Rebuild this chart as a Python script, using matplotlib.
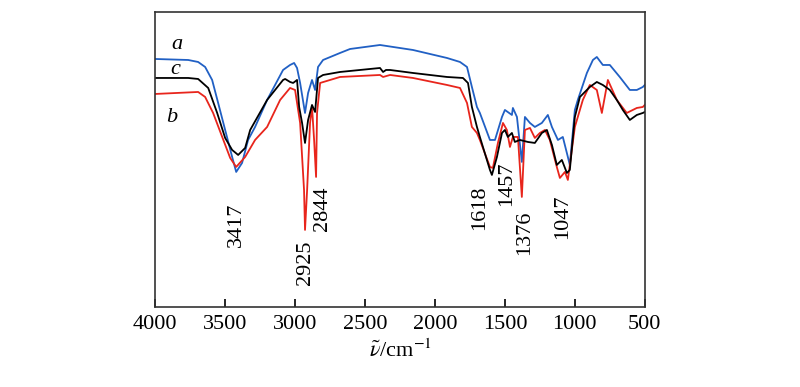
import matplotlib
matplotlib.use("Agg")
import matplotlib.pyplot as plt

plt.rcParams['font.family'] = ['Liberation Serif', 'DejaVu Serif']
plt.rcParams['mathtext.fontset'] = 'stix'

# wavenumber (cm-1) and transmittance (arbitrary units)
wn_a = [4000, 3764, 3693, 3643, 3593, 3550, 3500, 3450, 3421, 3379, 3336, 3286, 3200,
        3086, 3036, 3007, 2986, 2964, 2929, 2907, 2879, 2857, 2836, 2800, 2679, 2607,
        2393, 2157, 1914, 1821, 1771, 1736, 1700, 1679, 1607, 1571, 1521, 1500, 1450,
        1443, 1414, 1379, 1357, 1321, 1286, 1236, 1193, 1164, 1121, 1086, 1050, 1036,
        1000, 979, 914, 871, 843, 800, 750, 679, 607, 557, 514, 500]
t_a = [248, 247, 245, 240, 227, 204, 177, 150, 135, 144, 167, 180, 207,
       237, 242, 244, 239, 224, 194, 214, 227, 217, 240, 247, 254, 258,
       262, 257, 249, 245, 240, 220, 200, 194, 167, 167, 190, 197, 192,
       199, 190, 145, 190, 184, 180, 184, 192, 180, 167, 170, 150, 142,
       197, 207, 234, 247, 250, 242, 242, 230, 217, 217, 220, 222]

wn_b = [4000, 3693, 3643, 3586, 3521, 3464, 3421, 3357, 3286, 3200, 3107, 3036, 3000,
        2964, 2936, 2929, 2914, 2893, 2879, 2864, 2850, 2843, 2821, 2679, 2393, 2371,
        2321, 2157, 1914, 1821, 1771, 1736, 1700, 1679, 1607, 1586, 1550, 1514, 1486,
        1464, 1443, 1407, 1379, 1357, 1321, 1286, 1250, 1214, 1179, 1129, 1107, 1071,
        1050, 1000, 943, 893, 843, 807, 764, 700, 629, 557, 514, 500]
t_b = [213, 215, 210, 194, 170, 149, 140, 150, 167, 180, 207, 219, 217,
       184, 117, 77, 117, 184, 200, 167, 130, 194, 224, 230, 232, 230,
       232, 229, 222, 219, 204, 180, 174, 167, 140, 139, 164, 184, 177,
       160, 170, 170, 110, 177, 179, 169, 174, 177, 167, 140, 129, 135,
       127, 180, 207, 222, 217, 194, 227, 207, 194, 199, 200, 202]

wn_c = [4000, 3764, 3693, 3621, 3557, 3500, 3450, 3407, 3357, 3321, 3200, 3086, 3071,
        3036, 3014, 2986, 2971, 2950, 2929, 2907, 2879, 2857, 2836, 2800, 2679, 2393,
        2371, 2350, 2321, 2157, 1914, 1800, 1764, 1736, 1700, 1679, 1607, 1593, 1557,
        1521, 1500, 1479, 1450, 1429, 1393, 1336, 1286, 1236, 1200, 1164, 1129, 1093,
        1057, 1036, 1000, 964, 893, 843, 800, 750, 700, 657, 607, 557, 514, 500]
t_c = [229, 229, 228, 219, 194, 169, 157, 152, 159, 177, 207, 227, 228,
       225, 224, 227, 200, 184, 164, 187, 202, 195, 229, 232, 235, 239,
       235, 237, 237, 234, 230, 229, 224, 200, 180, 170, 137, 132, 150,
       174, 177, 170, 174, 165, 167, 165, 164, 174, 177, 162, 142, 147,
       134, 137, 190, 210, 220, 225, 222, 217, 207, 197, 187, 192, 194, 195]

peak_labels = ["3417", "2925", "2844", "1618", "1457", "1376", "1047"]
peak_x = [3421, 2929, 2807, 1679, 1486, 1357, 1086]
peak_y = [82, 44, 98, 99, 123, 74, 90]

fig = plt.figure(figsize=(8, 3.87), dpi=100)
ax = fig.add_axes([0.194, 0.207, 0.612, 0.762])

ax.plot(wn_a, t_a, color="#2160c4", lw=1.3)
ax.plot(wn_b, t_b, color="#e8251c", lw=1.3)
ax.plot(wn_c, t_c, color="black", lw=1.3)

for lab, x, y in zip(peak_labels, peak_x, peak_y):
    ax.text(x, y, lab, rotation=90, ha="center", va="center", fontsize=16)

ax.text(3843, 262, "a", fontsize=16, style="italic", ha="center", va="center")
ax.text(3857, 237, "c", fontsize=16, style="italic", ha="center", va="center")
ax.text(3879, 189, "b", fontsize=16, style="italic", ha="center", va="center")

ax.set_xlim(4000, 500)
ax.set_ylim(0, 295)
ax.set_xticks([4000, 3500, 3000, 2500, 2000, 1500, 1000, 500])
ax.set_yticks([])
ax.tick_params(axis="x", direction="in", length=6, width=1.2, labelsize=16, pad=6)
for s in ax.spines.values():
    s.set_linewidth(1.2)
    s.set_color("#333333")
ax.set_xlabel(r"$\tilde{\nu}$/cm$^{-1}$", fontsize=16, labelpad=4)

fig.savefig("out.png", dpi=100)
